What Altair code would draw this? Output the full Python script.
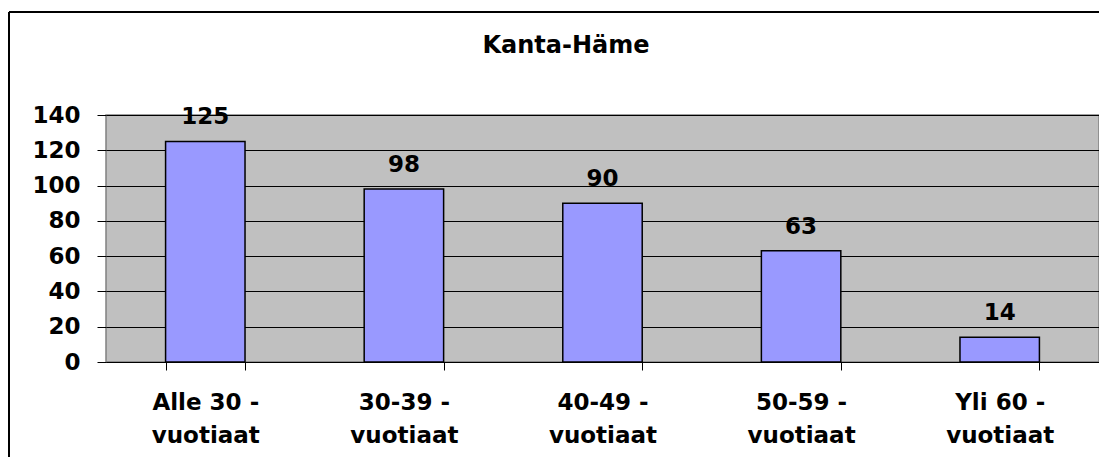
import altair as alt
import pandas as pd

categories = ["Alle 30 -\nvuotiaat", "30-39 -\nvuotiaat", "40-49 -\nvuotiaat",
              "50-59 -\nvuotiaat", "Yli 60 -\nvuotiaat"]
values = [125, 98, 90, 63, 14]
y_ticks = [0, 20, 40, 60, 80, 100, 120, 140]
title_text = "Kanta-Häme"

df = pd.DataFrame({"cat": categories, "val": values})

FONT = "DejaVu Sans"

x_enc = alt.X(
    "cat:N", sort=categories, title=None,
    scale=alt.Scale(paddingInner=0.6, paddingOuter=0.3),
    axis=alt.Axis(
        labelExpr="split(datum.label, '\\n')",
        labelAngle=0, labelFont=FONT, labelFontSize=23, labelFontWeight="bold",
        labelColor="black", labelLineHeight=33, labelPadding=21,
        tickBand="extent", tickSize=8, tickColor="black", tickWidth=1,
        domain=True, domainColor="black", domainWidth=1, grid=False,
    ),
)
y_enc = alt.Y(
    "val:Q", title=None,
    scale=alt.Scale(domain=[0, 140], nice=False),
    axis=alt.Axis(
        values=y_ticks, labelFont=FONT, labelFontSize=23, labelFontWeight="bold",
        labelColor="black", labelPadding=17, tickSize=9, tickColor="black",
        labelOverlap=False, domain=False, grid=True, gridColor="black",
        gridWidth=1,
    ),
)

bars = alt.Chart(df).mark_bar(
    color="#9999FF", stroke="black", strokeWidth=1.5
).encode(x=x_enc, y=y_enc)

labels = alt.Chart(df).mark_text(
    font=FONT, fontSize=23, fontWeight="bold", color="black",
    baseline="alphabetic", dy=-17
).encode(x=x_enc, y=y_enc, text="val:Q")

title = alt.Chart(pd.DataFrame({"t": [title_text]})).mark_text(
    font=FONT, fontSize=24, fontWeight="bold", color="black",
    baseline="alphabetic", align="center"
).encode(x=alt.value(460), y=alt.value(-62), text="t:N")

frame_left = alt.Chart(pd.DataFrame({"a": [0]})).mark_rule(
    color="black", strokeWidth=2
).encode(x=alt.value(-97), y=alt.value(-103), y2=alt.value(345))

frame_top = alt.Chart(pd.DataFrame({"a": [0]})).mark_rule(
    color="black", strokeWidth=2
).encode(x=alt.value(-97), x2=alt.value(1000), y=alt.value(-103))

chart = alt.layer(bars, labels, title, frame_left, frame_top).properties(
    width=993, height=247,
    autosize=alt.AutoSizeParams(type="none"),
    padding={"left": 98, "top": 107, "right": 0, "bottom": 95},
    background="white",
).configure_view(
    fill="#C0C0C0", stroke="#808080", strokeWidth=1.5
)

chart.save("out.html", embed_options={"renderer": "svg", "actions": False})
